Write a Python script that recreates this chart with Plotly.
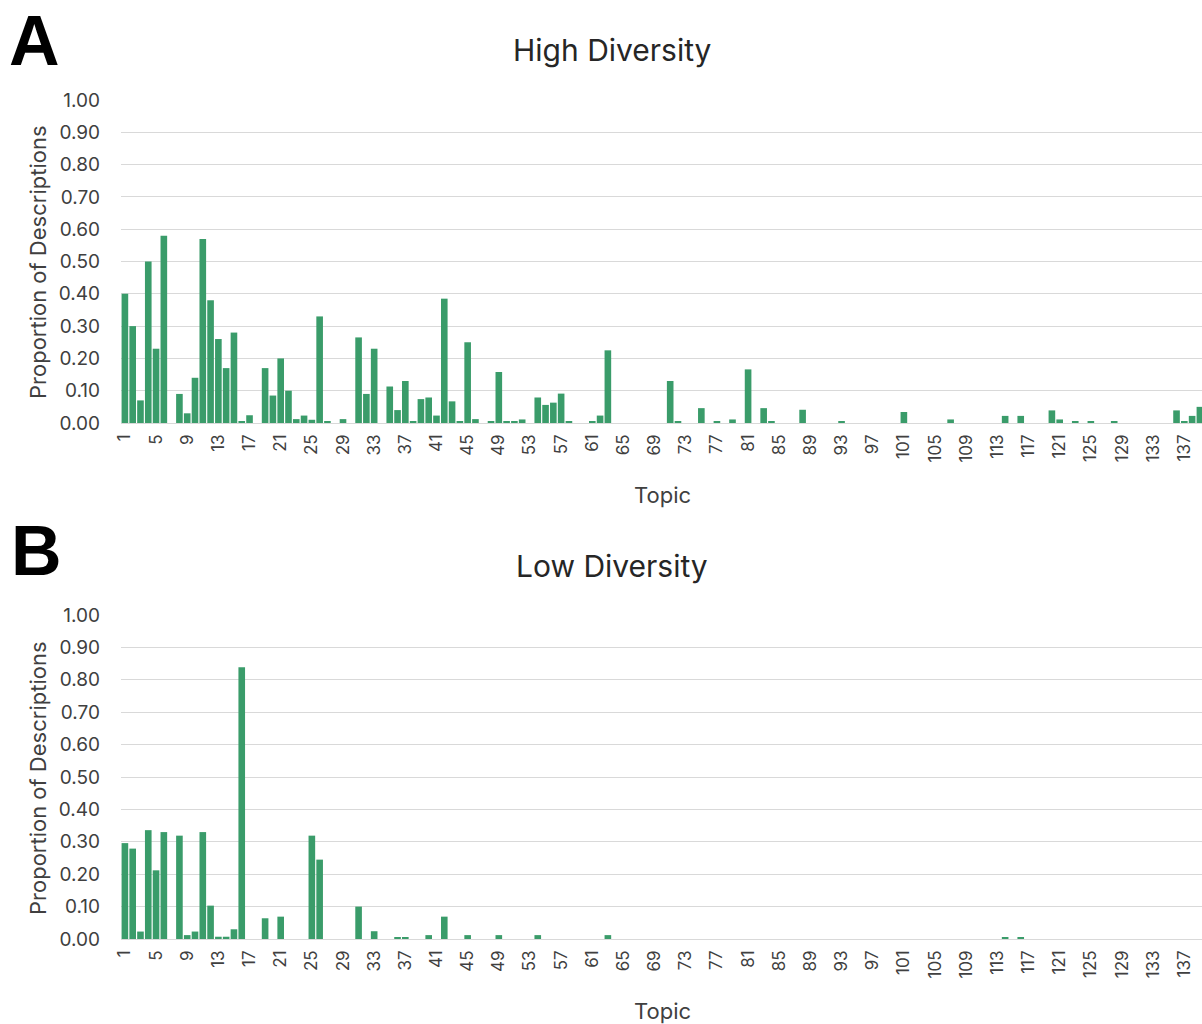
import plotly.graph_objects as go

topics = list(range(1, 140))
tick_labels = [str(t) for t in range(1, 140, 4)]

high_diversity = [
    0.40, 0.30, 0.07, 0.50, 0.23, 0.58, 0, 0.09, 0.03, 0.14,
    0.57, 0.38, 0.26, 0.17, 0.28, 0.006, 0.024, 0, 0.17, 0.085,
    0.20, 0.10, 0.012, 0.023, 0.01, 0.33, 0.005, 0, 0.012, 0,
    0.265, 0.09, 0.23, 0, 0.113, 0.04, 0.13, 0.005, 0.074, 0.079,
    0.023, 0.385, 0.067, 0.005, 0.25, 0.012, 0, 0.005, 0.158, 0.006,
    0.006, 0.011, 0, 0.079, 0.056, 0.063, 0.091, 0.006, 0, 0,
    0.006, 0.023, 0.225, 0, 0, 0, 0, 0, 0, 0,
    0.13, 0.006, 0, 0, 0.046, 0, 0.006, 0, 0.011, 0,
    0.166, 0, 0.046, 0.006, 0, 0, 0, 0.041, 0, 0,
    0, 0, 0.006, 0, 0, 0, 0, 0, 0, 0,
    0.034, 0, 0, 0, 0, 0, 0.011, 0, 0, 0,
    0, 0, 0, 0.022, 0, 0.022, 0, 0, 0, 0.039,
    0.011, 0, 0.006, 0, 0.006, 0, 0, 0.006, 0, 0,
    0, 0, 0, 0, 0, 0.039, 0.006, 0.022, 0.05,
]

low_diversity = [
    0.296, 0.279, 0.023, 0.336, 0.212, 0.33, 0, 0.319, 0.012, 0.023,
    0.33, 0.103, 0.007, 0.007, 0.03, 0.839, 0, 0, 0.064, 0,
    0.069, 0, 0, 0, 0.319, 0.245, 0, 0, 0, 0,
    0.10, 0, 0.024, 0, 0, 0.006, 0.006, 0, 0, 0.012,
    0, 0.069, 0, 0, 0.012, 0, 0, 0, 0.012, 0,
    0, 0, 0, 0.012, 0, 0, 0, 0, 0, 0,
    0, 0, 0.012, 0, 0, 0, 0, 0, 0, 0,
    0, 0, 0, 0, 0, 0, 0, 0, 0, 0,
    0, 0, 0, 0, 0, 0, 0, 0, 0, 0,
    0, 0, 0, 0, 0, 0, 0, 0, 0, 0,
    0, 0, 0, 0, 0, 0, 0, 0, 0, 0,
    0, 0, 0, 0.005, 0, 0.005, 0, 0, 0, 0,
    0, 0, 0, 0, 0, 0, 0, 0, 0, 0,
    0, 0, 0, 0, 0, 0, 0, 0, 0,
]

W, H = 1202, 1024
BAR_COLOR = "#3A9C6A"
TEXT = "#404040"
GRID = "#D9D9D9"
FONT = "Inter"


def px_x(x):
    return x / W


def px_y(y):
    return 1 - y / H


fig = go.Figure()
fig.add_trace(go.Bar(x=topics, y=high_diversity, marker_color=BAR_COLOR,
                     marker_line_width=0, xaxis="x", yaxis="y", showlegend=False))
fig.add_trace(go.Bar(x=topics, y=low_diversity, marker_color=BAR_COLOR,
                     marker_line_width=0, xaxis="x2", yaxis="y2", showlegend=False))

x_common = dict(
    range=[0.5, 139.27], tickmode="array",
    tickvals=[int(t) for t in tick_labels], ticktext=tick_labels,
    tickangle=-90, showgrid=False, zeroline=False, showline=False, ticks="",
    tickfont=dict(family=FONT, size=17, color=TEXT), ticklabelstandoff=7,
    fixedrange=True, automargin=False,
)
y_common = dict(
    range=[0, 1.0001], dtick=0.1, tickformat=".2f", showgrid=True, gridcolor=GRID,
    gridwidth=1, zeroline=True, zerolinecolor=GRID, zerolinewidth=1, showline=False,
    ticks="", tickfont=dict(family=FONT, size=19, color=TEXT), ticklabelstandoff=20,
    automargin=False,
)

fig.update_layout(
    width=W, height=H, margin=dict(l=0, r=0, t=0, b=0, autoexpand=False),
    paper_bgcolor="white", plot_bgcolor="white", bargap=0.15,
    xaxis=dict(domain=[px_x(121), 1], anchor="y", **x_common),
    yaxis=dict(domain=[px_y(423), px_y(100)], anchor="x", **y_common),
    xaxis2=dict(domain=[px_x(121), 1], anchor="y2", **x_common),
    yaxis2=dict(domain=[px_y(939), px_y(615)], anchor="x2", **y_common),
)

annotations = [
    dict(text="<b>A</b>", x=px_x(7), y=px_y(41), xanchor="left", yanchor="middle",
         font=dict(family="Liberation Sans", size=70, color="black")),
    dict(text="<b>B</b>", x=px_x(9), y=px_y(551), xanchor="left", yanchor="middle",
         font=dict(family="Liberation Sans", size=70, color="black")),
    dict(text="High Diversity", x=px_x(612), y=px_y(50), xanchor="center", yanchor="middle",
         font=dict(family=FONT, size=30, color="#262626")),
    dict(text="Low Diversity", x=px_x(612), y=px_y(566), xanchor="center", yanchor="middle",
         font=dict(family=FONT, size=30, color="#262626")),
    dict(text="Topic", x=px_x(662), y=px_y(495), xanchor="center", yanchor="middle",
         font=dict(family=FONT, size=22, color=TEXT)),
    dict(text="Topic", x=px_x(662), y=px_y(1011), xanchor="center", yanchor="middle",
         font=dict(family=FONT, size=22, color=TEXT)),
    dict(text="Proportion of Descriptions", x=px_x(38), y=px_y(262), textangle=-90,
         xanchor="center", yanchor="middle", font=dict(family=FONT, size=22, color=TEXT)),
    dict(text="Proportion of Descriptions", x=px_x(38), y=px_y(778), textangle=-90,
         xanchor="center", yanchor="middle", font=dict(family=FONT, size=22, color=TEXT)),
]
for a in annotations:
    a.update(xref="paper", yref="paper", showarrow=False)
fig.update_layout(annotations=annotations)

fig.write_html(
    "out.html",
    config={"displayModeBar": False},
    post_script="document.body.style.margin='0';document.body.style.padding='0';",
)
